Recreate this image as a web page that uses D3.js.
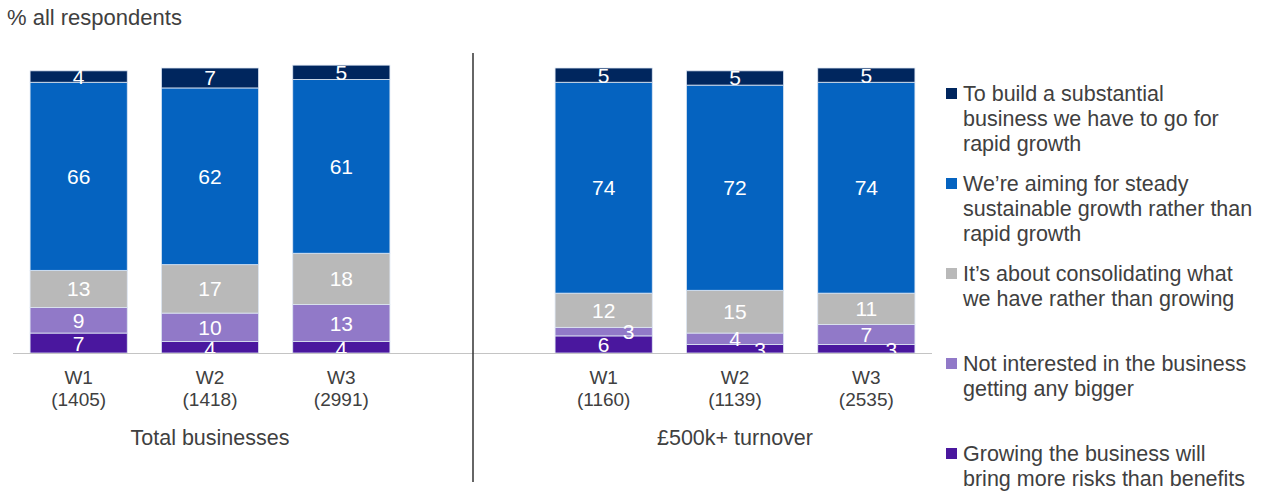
<!DOCTYPE html>
<html>
<head>
<meta charset="utf-8">
<script src="https://cdn.jsdelivr.net/npm/d3@7"></script>
<style>
  body { margin: 0; background: #fff; }
  text { font-family: "Liberation Sans", Arial, sans-serif; }
</style>
</head>
<body>
<div id="chart"></div>
<script>
"use strict";

// waves and sample sizes
const waves = ["W1", "W2", "W3"];
const groups = ["Total businesses", "£500k+ turnover"];
const bases = [["(1405)", "(1418)", "(2991)"], ["(1160)", "(1139)", "(2535)"]];

// series, bottom of stack first; each array = [total W1..W3, £500k+ W1..W3]
const risks = [7, 4, 4, 6, 3, 3];
const notInterested = [9, 10, 13, 3, 4, 7];
const consolidating = [13, 17, 18, 12, 15, 11];
const steady = [66, 62, 61, 74, 72, 74];
const rapid = [4, 7, 5, 5, 5, 5];

const seriesValues = [risks, notInterested, consolidating, steady, rapid];
const colors = ["#4a179e", "#9179c8", "#b9b9b9", "#0563c0", "#00265e"];

// legend text, top item first (wrapped like the original)
const legendLines = [
    ["To build a substantial", "business we have to go for", "rapid growth"],
    ["We’re aiming for steady", "sustainable growth rather than", "rapid growth"],
    ["It’s about consolidating what", "we have rather than growing"],
    ["Not interested in the business", "getting any bigger"],
    ["Growing the business will", "bring more risks than benefits"]
];

const msm = {
    width: 1270,
    height: 493,
    baseline: 353,
    panels: [[13, 407], [538, 932]]
};

const svg = d3.select("#chart").append("svg")
    .attr("width", msm.width)
    .attr("height", msm.height);

const y = d3.scaleLinear().domain([0, 100]).range([msm.baseline, msm.baseline - 285]);

svg.append("text")
    .attr("x", 7)
    .attr("y", 25)
    .style("font-size", "22px")
    .style("fill", "#404040")
    .text("% all respondents");

groups.forEach(function (g, gi) {
    const x = d3.scaleBand()
        .domain(waves)
        .range(msm.panels[gi])
        .paddingInner(0.26)
        .paddingOuter(0.13);

    const segs = waves.map(function (w, wi) {
        let acc = 0;
        return seriesValues.map(function (vals, si) {
            const v = vals[gi * 3 + wi];
            const s = { wave: w, series: si, value: v, y0: acc, y1: acc + v };
            acc += v;
            return s;
        });
    }).flat();

    const panel = svg.append("g");

    panel.selectAll(".seg")
        .data(segs)
        .enter()
        .append("rect")
        .attr("class", "seg")
        .attr("x", d => x(d.wave))
        .attr("width", x.bandwidth())
        .attr("y", d => y(d.y1))
        .attr("height", d => y(d.y0) - y(d.y1))
        .attr("fill", d => colors[d.series])
        .attr("stroke", "#dde6f3")
        .attr("stroke-width", 0.8);

    // small values are nudged to the right, as in the original
    panel.selectAll(".val")
        .data(segs)
        .enter()
        .append("text")
        .attr("class", "val")
        .attr("x", d => x(d.wave) + x.bandwidth() / 2 + (d.value <= 3 ? 25 : 0))
        .attr("y", d => (y(d.y0) + y(d.y1)) / 2 + (d.value <= 4 && d.series === 0 ? 8.5 : 7.5))
        .attr("text-anchor", "middle")
        .style("font-size", "21px")
        .style("fill", "#ffffff")
        .text(d => d.value);

    // category labels
    const lab = panel.selectAll(".cat")
        .data(waves)
        .enter()
        .append("text")
        .attr("class", "cat")
        .attr("text-anchor", "middle")
        .style("font-size", "19px")
        .style("fill", "#404040");
    lab.append("tspan")
        .attr("x", d => x(d) + x.bandwidth() / 2)
        .attr("y", 384)
        .text(d => d);
    lab.append("tspan")
        .attr("x", d => x(d) + x.bandwidth() / 2)
        .attr("y", 406)
        .text((d, i) => bases[gi][i]);

    panel.append("text")
        .attr("x", x(waves[1]) + x.bandwidth() / 2)
        .attr("y", 445)
        .attr("text-anchor", "middle")
        .style("font-size", "21.5px")
        .style("fill", "#404040")
        .text(g);
});

// baseline across both panels
svg.append("line")
    .attr("x1", 13).attr("x2", 932)
    .attr("y1", msm.baseline + 0.5).attr("y2", msm.baseline + 0.5)
    .attr("stroke", "#c4c4c4")
    .attr("stroke-width", 1.2);

// divider
svg.append("line")
    .attr("x1", 473).attr("x2", 473)
    .attr("y1", 53).attr("y2", 482)
    .attr("stroke", "#333333")
    .attr("stroke-width", 1.5);

// legend
const legend = svg.append("g");
legendLines.forEach(function (lines, i) {
    const top = 93 + i * 90;
    const si = seriesValues.length - 1 - i;
    legend.append("rect")
        .attr("x", 946)
        .attr("y", top - 5)
        .attr("width", 11)
        .attr("height", 11)
        .attr("fill", colors[si]);
    const t = legend.append("text")
        .style("font-size", "21.5px")
        .style("fill", "#404040");
    lines.forEach(function (l, li) {
        t.append("tspan")
            .attr("x", 963)
            .attr("y", top + 8 + li * 25)
            .text(l);
    });
});
</script>
</body>
</html>
